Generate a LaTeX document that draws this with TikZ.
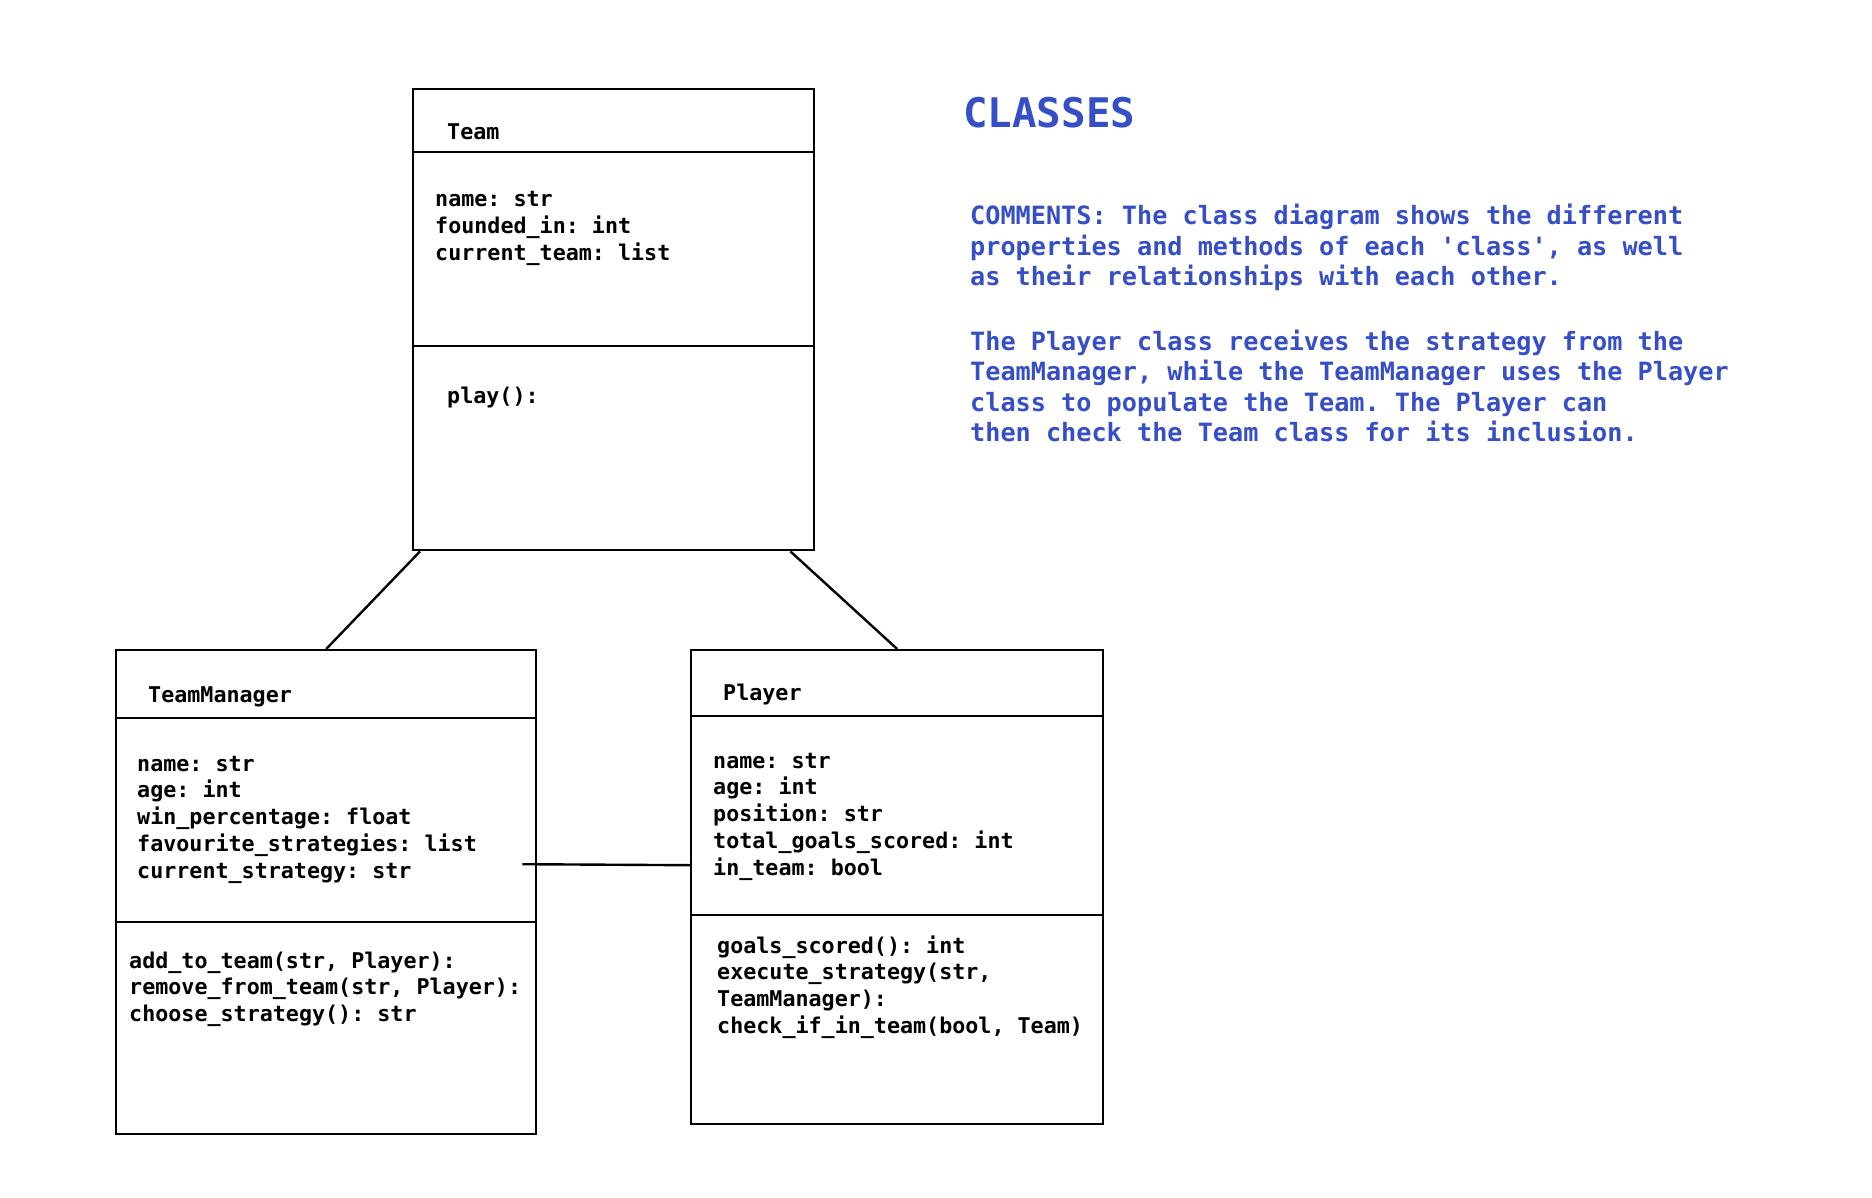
\documentclass[tikz,border=0pt]{standalone}
\usepackage{fontspec}
\setmonofont{DejaVu Sans Mono}
\usetikzlibrary{positioning}
\definecolor{notes}{HTML}{364FC7}
% lines of a compartment, baseline on the first one
\newcommand{\textlines}[1]{\begin{tabular}[t]{@{}l@{}}#1\end{tabular}}
\tikzset{
  classbox/.style={draw,line width=2.4pt,rectangle,anchor=north west,inner sep=0pt},
  member/.style={anchor=base west,inner sep=0pt,font=\ttfamily\bfseries\fontsize{21.7}{26.8}\selectfont},
  link/.style={line width=2.4pt},
}
\begin{document}
\begin{tikzpicture}[x=1pt,y=-1pt]
\useasboundingbox (0,0) rectangle (1872,1198);
% class boxes
\node[classbox,minimum width=401pt,minimum height=461pt] (team) at (412,88) {};
\node[classbox,minimum width=420pt,minimum height=484pt] (manager) at (115,649) {};
\node[classbox,minimum width=412pt,minimum height=474pt] (player) at (690,649) {};
% compartments
\foreach \cls/\a/\b in {team/64/258,manager/69/273,player/67/266} {
        \draw[link] ([yshift=-\a pt]\cls.north west) -- ([yshift=-\a pt]\cls.north east);
        \draw[link] ([yshift=-\b pt]\cls.north west) -- ([yshift=-\b pt]\cls.north east);
}
% Team
\node[member] (teamname) at (447,140) {Team};
\node[member] (teamattr) at (435,207) {\textlines{name: str\\founded\_in: int\\current\_team: list}};
\node[member] (teamops) at (447,403) {play():};
% TeamManager
\node[member] (managername) at (148,702) {TeamManager};
\node[member] (managerattr) at (137,771) {\textlines{name: str\\age: int\\win\_percentage: float\\favourite\_strategies: list\\current\_strategy: str}};
\node[member] (managerops) at (129,968) {\textlines{add\_to\_team(str, Player):\\remove\_from\_team(str, Player):\\choose\_strategy(): str}};
% Player
\node[member] (playername) at (723,700) {Player};
\node[member] (playerattr) at (713,768) {\textlines{name: str\\age: int\\position: str\\total\_goals\_scored: int\\in\_team: bool}};
\node[member] (playerops) at (717,953) {\textlines{goals\_scored(): int\\execute\_strategy(str,\\TeamManager):\\check\_if\_in\_team(bool, Team)}};
% relations
\draw[link] ([xshift=8pt]team.south west) -- (manager.north);
\draw[link] ([xshift=-25pt]team.south east) -- (player.north);
\draw[link] ([xshift=-15pt,yshift=28pt]manager.east) -- ([yshift=22pt]player.west);
% notes
\node[member,text=notes,font=\ttfamily\bfseries\fontsize{40.8}{48}\selectfont] (title) at (963,128) {CLASSES};
\node[member,text=notes,font=\ttfamily\bfseries\fontsize{25.2}{30.5}\selectfont] (comments) at (970,225)
  {\textlines{COMMENTS: The class diagram shows the different\\properties and methods of each 'class', as well\\as their relationships with each other.\\[34pt]The Player class receives the strategy from the\\TeamManager, while the TeamManager uses the Player\\class to populate the Team. The Player can\\then check the Team class for its inclusion.}};
\end{tikzpicture}
\end{document}
